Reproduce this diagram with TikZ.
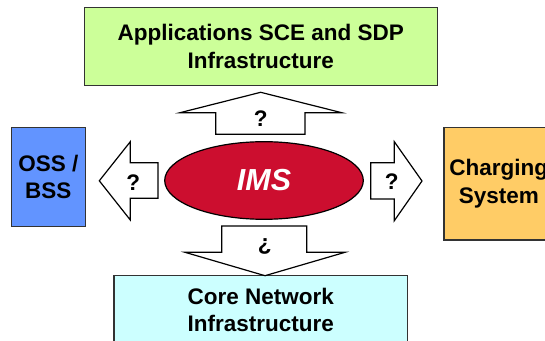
\documentclass[tikz,border=0pt]{standalone}
\usepackage{fontspec}
\setmainfont{Liberation Sans}
\usetikzlibrary{shapes.geometric}
\definecolor{appsgreen}{HTML}{CCFF99}
\definecolor{ossblue}{HTML}{6294FF}
\definecolor{chargeorange}{HTML}{FFCC66}
\definecolor{corecyan}{HTML}{CCFFFF}
\definecolor{imsred}{HTML}{CC0E2F}
\definecolor{edge}{HTML}{333333}
\tikzset{
  box/.style={rectangle, draw=edge, line width=0.6pt, align=center, inner sep=0pt,
    font=\fontsize{11.25}{13.6}\selectfont\bfseries},
  boxApps/.style={box, fill=appsgreen},
  boxOss/.style={box, fill=ossblue},
  boxCharge/.style={box, fill=chargeorange},
  boxCore/.style={box, fill=corecyan},
  core/.style={ellipse, draw=black, line width=0.6pt, fill=imsred, inner sep=0pt,
    text=white, font=\fontsize{15.2}{18}\selectfont\bfseries\itshape},
  blockarrow/.style={draw=black, line width=0.6pt, fill=white, line join=miter},
  qmark/.style={font=\fontsize{11.25}{13.6}\selectfont\bfseries, inner sep=0pt},
}

\begin{document}
\begin{tikzpicture}[x=0.5pt, y=-0.5pt]
\useasboundingbox (0,0) rectangle (545,341);
\clip (0,0) rectangle (545,341);
% outer boxes
\node[boxApps, minimum width=176.4pt, minimum height=39.2pt] (apps) at (260.7,46.5) {Applications SCE and SDP\\Infrastructure};
\node[boxOss, minimum width=37pt, minimum height=49.5pt] (oss) at (48.3,177.2) {OSS /\\BSS};
\node[boxCharge, minimum width=54.8pt, minimum height=56.4pt] (charging) at (498.8,183.7) {Charging\\System};
\node[boxCore, minimum width=146.7pt, minimum height=34.3pt] (corenet) at (260.7,310) {Core Network\\Infrastructure};
% centre
\node[core, minimum width=99.3pt, minimum height=38.8pt] (ims) at (264,180.5) {IMS};
% block arrows
\draw[blockarrow] (215.7,134.3) -- (215.7,112.7) -- (180,112.7) -- (260.7,92.3)
  -- (341.7,112.7) -- (305,112.7) -- (305,134.3) -- cycle;
\draw[blockarrow] (221.7,226) -- (306.7,226) -- (306.7,252.3) -- (345,252.3)
  -- (265,275.7) -- (185,252.3) -- (221.7,252.3) -- cycle;
\draw[blockarrow] (158,162.7) -- (130.3,162.7) -- (130.3,141.7) -- (99.3,180.8)
  -- (130.3,220) -- (130.3,198.3) -- (158,198.3) -- cycle;
\draw[blockarrow] (370.7,162.7) -- (394.3,162.7) -- (394.3,141.7) -- (422,181)
  -- (394.3,220.7) -- (394.3,199) -- (370.7,199) -- cycle;
\node[qmark] (qup) at (260.7,119) {?};
\node[qmark] (qleft) at (133.3,182.7) {?};
\node[qmark] (qright) at (391.7,181.7) {?};
\node[qmark] (qdown) at (264.7,246.7) {¿};
\end{tikzpicture}
\end{document}
